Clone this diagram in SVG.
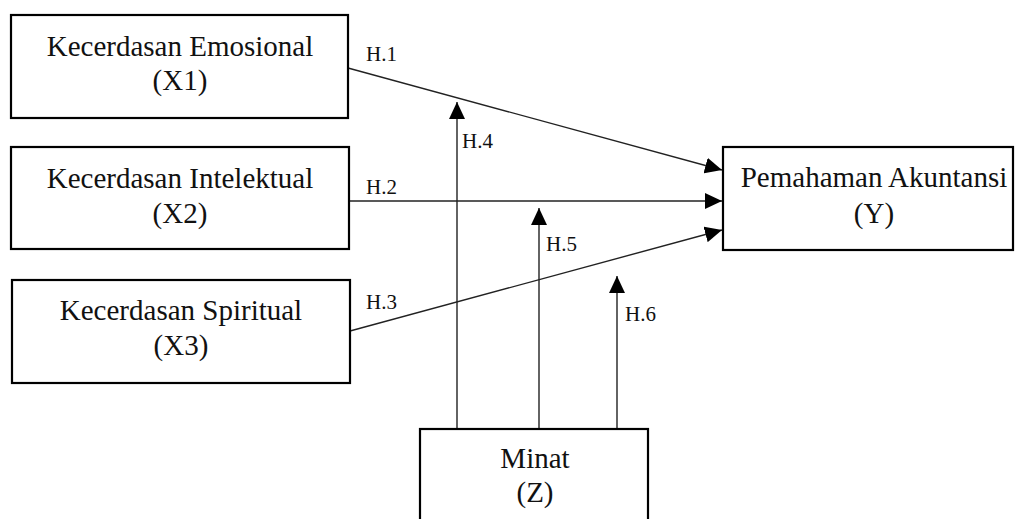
<svg xmlns="http://www.w3.org/2000/svg" width="1018" height="519" viewBox="0 0 1018 519">
<style>
.box{fill:#fff;stroke:#000;stroke-width:2.2}
.t{font-size:29px;fill:#111;text-anchor:middle}
.h{font-size:21px;fill:#111}
.c{fill:none;stroke:#222;stroke-width:1.4}
</style>
<defs>
<marker id="arr" markerUnits="userSpaceOnUse" markerWidth="18" markerHeight="16" viewBox="0 0 18 16" refX="17" refY="8" orient="auto">
<path d="M0,0 L17,8 L0,16 Z" fill="#000"/>
</marker>
</defs>
<rect width="1018" height="519" fill="#fff"/>
<g font-family="'Liberation Serif', 'Times New Roman', 'DejaVu Serif', serif">
<g id="connectors">
<line class="c" x1="348" y1="68" x2="722" y2="170" marker-end="url(#arr)"/>
<line class="c" x1="349" y1="201" x2="722" y2="201" marker-end="url(#arr)"/>
<line class="c" x1="350" y1="331" x2="722" y2="230" marker-end="url(#arr)"/>
<line class="c" x1="457" y1="429" x2="457" y2="102" marker-end="url(#arr)"/>
<line class="c" x1="539" y1="429" x2="539" y2="208" marker-end="url(#arr)"/>
<line class="c" x1="617" y1="429" x2="617" y2="276" marker-end="url(#arr)"/>
<text class="h" x="366" y="61">H.1</text>
<text class="h" x="366" y="194">H.2</text>
<text class="h" x="366" y="309">H.3</text>
<text class="h" x="462" y="148">H.4</text>
<text class="h" x="546" y="251">H.5</text>
<text class="h" x="625" y="321">H.6</text>
</g>
<g id="x1">
<rect class="box" x="11" y="15" width="337" height="103"/>
<text class="t" x="180" y="56">Kecerdasan Emosional</text>
<text class="t" x="180" y="90">(X1)</text>
</g>
<g id="x2">
<rect class="box" x="11" y="147" width="338" height="102"/>
<text class="t" x="180" y="188">Kecerdasan Intelektual</text>
<text class="t" x="180" y="223">(X2)</text>
</g>
<g id="x3">
<rect class="box" x="12" y="280" width="338" height="103"/>
<text class="t" x="181" y="320">Kecerdasan Spiritual</text>
<text class="t" x="181" y="355">(X3)</text>
</g>
<g id="y">
<rect class="box" x="723" y="147" width="290" height="103"/>
<text class="t" x="874" y="187">Pemahaman Akuntansi</text>
<text class="t" x="874" y="223">(Y)</text>
</g>
<g id="z">
<rect class="box" x="420" y="429" width="228" height="100"/>
<text class="t" x="535" y="468">Minat</text>
<text class="t" x="535" y="502">(Z)</text>
</g>
</g>
</svg>
